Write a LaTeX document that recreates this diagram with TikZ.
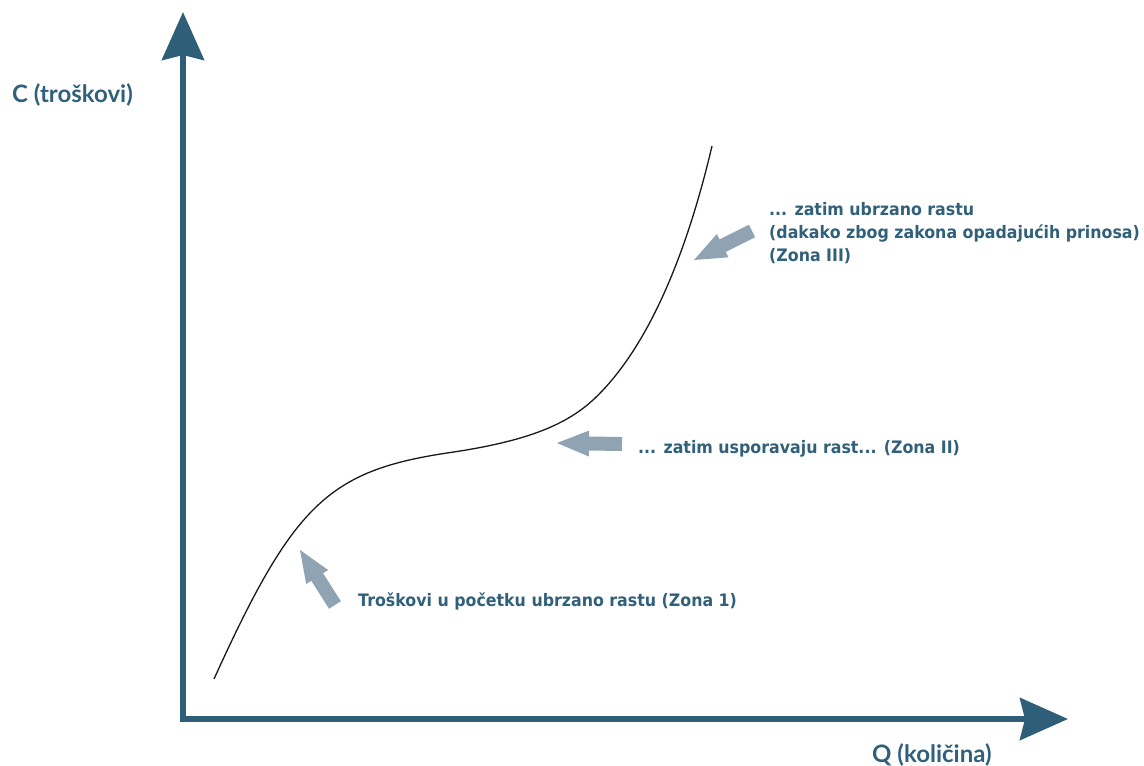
\documentclass[tikz,border=0pt]{standalone}
\usepackage{fontspec}
\setmainfont{DejaVu Sans}
\newfontfamily\notefont{DejaVu Sans}[FakeStretch=0.92]
\newfontfamily\axisfont{Lato}
\usetikzlibrary{arrows.meta,calc}

\definecolor{axisblue}{HTML}{2E5E78}
\definecolor{textblue}{HTML}{30607A}
\definecolor{pointer}{HTML}{8FA3B3}

% block arrow from a tail coordinate #1 to a tip coordinate #2
\newcommand\zonearrow[2]{%
  \coordinate (#1neck) at ($(#2)!32pt!(#1)$);
  \fill[pointer]
    ($(#1)!7pt!90:(#2)$) -- ($(#1neck)!7pt!90:(#2)$) --
    ($(#1neck)!13pt!90:(#2)$) -- (#2) --
    ($(#1neck)!13pt!-90:(#2)$) -- ($(#1neck)!7pt!-90:(#2)$) --
    ($(#1)!7pt!-90:(#2)$) -- cycle;}

\tikzset{
  axis/.style={draw=axisblue, line width=6pt, line join=miter},
  axlabel/.style={text=textblue, font=\axisfont\fontsize{24}{26}\selectfont\bfseries, inner sep=0pt},
  note/.style={text=textblue, font=\notefont\fontsize{17.2}{22.5}\selectfont\bfseries, inner sep=0pt, align=left},
  costcurve/.style={draw=black!90, line width=1.3pt}
}

\begin{document}
\begin{tikzpicture}[x=1pt, y=-1pt]
  \useasboundingbox (0,0) rectangle (1144,766);

  % axes
  \coordinate (O) at (183,719);
  \coordinate (ytip) at (183,12);
  \coordinate (xtip) at (1068,719);
  \draw[axis, {Stealth[length=48pt, width=42pt, inset=5pt]}-{Stealth[length=48pt, width=42pt, inset=5pt]}]
    (ytip) -- (O) -- (xtip);

  \node[axlabel, anchor=base west] (clabel) at (12,102) {C (troškovi)};
  \node[axlabel, anchor=base west] (qlabel) at (872,762) {Q (količina)};

  % total cost curve: concave start, flat middle, convex end
  \coordinate (cstart) at (214,679);
  \coordinate (cmid) at (447,453);
  \coordinate (cknee) at (593,400);
  \coordinate (cend) at (712,146);
  \draw[costcurve] (cstart)
    .. controls (293,505) and (328,471) .. (cmid)
    .. controls (523,442) and (564,426.5) .. (cknee)
    .. controls (643,353.5) and (683.5,267) .. (cend);

  % pointers to the three zones
  \coordinate (t1) at (335,605); \coordinate (h1) at (300,550);
  \coordinate (t2) at (622,444); \coordinate (h2) at (557,443);
  \coordinate (t3) at (752,231); \coordinate (h3) at (694,260);
  \zonearrow{t1}{h1}
  \zonearrow{t2}{h2}
  \zonearrow{t3}{h3}

  % notes
  \node[note, anchor=base west] (z1) at (358,606.5) {Troškovi u početku ubrzano rastu (Zona 1)};
  \node[note, anchor=base west] (z2) at (638,453) {... zatim usporavaju rast... (Zona II)};
  \node[note, anchor=base west] (z3a) at (769,215.5) {... zatim ubrzano rastu};
  \node[note, anchor=base west] (z3b) at (769,238.5) {(dakako zbog zakona opadajućih prinosa)};
  \node[note, anchor=base west] (z3c) at (769,261.5) {(Zona III)};
\end{tikzpicture}
\end{document}
